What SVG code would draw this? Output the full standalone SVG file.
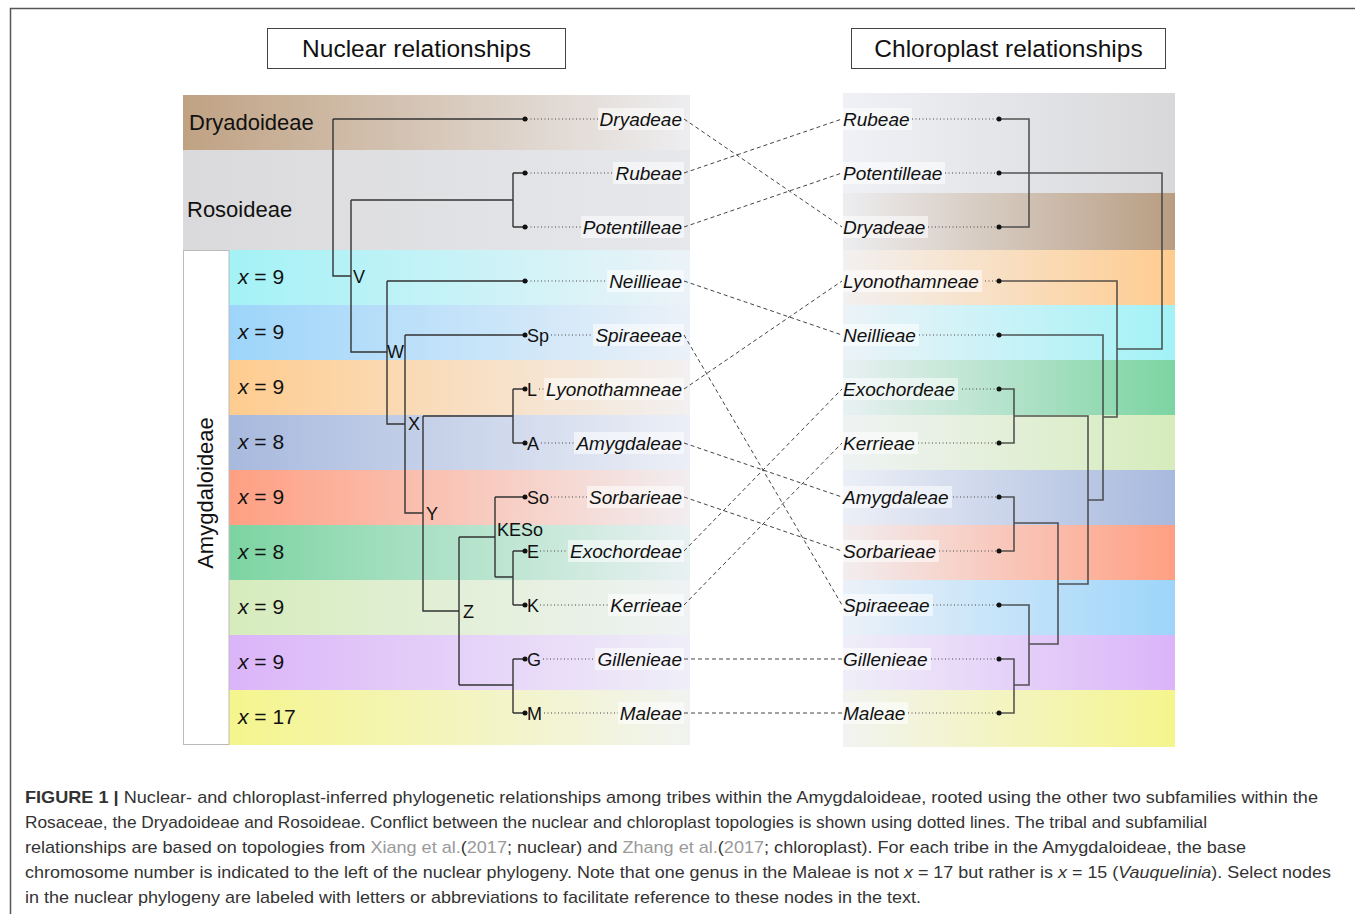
<svg xmlns="http://www.w3.org/2000/svg" width="1355" height="914" viewBox="0 0 1355 914">
<defs>
<linearGradient id="fadeL" x1="0" y1="0" x2="1" y2="0">
<stop offset="0" stop-color="#f1f3f8" stop-opacity="0"/>
<stop offset="1" stop-color="#f1f3f8" stop-opacity="0.93"/>
</linearGradient>
<linearGradient id="fadeR" x1="0" y1="0" x2="1" y2="0">
<stop offset="0" stop-color="#f1f3f8" stop-opacity="0.93"/>
<stop offset="1" stop-color="#f1f3f8" stop-opacity="0"/>
</linearGradient>
<style>
.hdr{font-family:"Liberation Sans",Arial,sans-serif;font-size:24.5px;fill:#111;text-anchor:middle}
.sub{font-family:"Liberation Sans",Arial,sans-serif;font-size:22px;fill:#111}
.xn{font-family:"Liberation Sans",Arial,sans-serif;font-size:21px;fill:#111}
.tl{font-family:"Liberation Sans",Arial,sans-serif;font-size:19px;font-style:italic;fill:#111}
.nl{font-family:"Liberation Sans",Arial,sans-serif;font-size:18px;fill:#111}
.tree{fill:none;stroke:#333;stroke-width:1.4}
.treeR{fill:none;stroke:#3a3a3a;stroke-width:1.6;stroke-opacity:0.85}
.dot{fill:#111}
.dotted{stroke:#444;stroke-width:1;stroke-dasharray:1 2.5;fill:none}
.dash{stroke:#444;stroke-width:1;stroke-dasharray:4 3;fill:none}
.lblbg{fill:#fff;fill-opacity:0.55}
.cap{font-family:"Liberation Sans",Arial,sans-serif;font-size:17px;fill:#333}
.lnk{fill:#9a9a9a}
</style>
</defs>
<rect width="1355" height="914" fill="#fff"/>
<!-- frame -->
<path d="M10.5,914 V8.5 H1355" fill="none" stroke="#555" stroke-width="1.5"/>

<!-- headers -->
<g id="hdr-nuclear">
<rect x="267.5" y="28.5" width="298" height="40" fill="#fff" stroke="#444" stroke-width="1"/>
<text class="hdr" x="416.5" y="57">Nuclear relationships</text>
</g>
<g id="hdr-chloroplast">
<rect x="851.5" y="28.5" width="314" height="40" fill="#fff" stroke="#444" stroke-width="1"/>
<text class="hdr" x="1008.5" y="57">Chloroplast relationships</text>
</g>

<!-- left bands -->
<g id="bands-left">
<rect x="183" y="95" width="507" height="55" fill="#c0a283"/>
<rect x="183" y="95" width="507" height="55" fill="url(#fadeL)"/>
<rect x="183" y="150" width="507" height="100" fill="#dadadc"/>
<rect x="183" y="150" width="507" height="100" fill="url(#fadeL)" opacity="0.6"/>
<rect x="229" y="250" width="461" height="55" fill="#a3f2f6"/>
<rect x="229" y="305" width="461" height="55" fill="#9dd5fa"/>
<rect x="229" y="360" width="461" height="55" fill="#ffcc8f"/>
<rect x="229" y="415" width="461" height="55" fill="#a7b9de"/>
<rect x="229" y="470" width="461" height="55" fill="#ff9f82"/>
<rect x="229" y="525" width="461" height="55" fill="#7cd4a2"/>
<rect x="229" y="580" width="461" height="55" fill="#d6ecbc"/>
<rect x="229" y="635" width="461" height="55" fill="#dbb4f9"/>
<rect x="229" y="690" width="461" height="55" fill="#f5f58d"/>
<rect x="229" y="250" width="461" height="495" fill="url(#fadeL)"/>
<rect x="183.5" y="250.5" width="45.5" height="494" fill="#fff" stroke="#bbb" stroke-width="1"/>
</g>

<!-- right bands -->
<g id="bands-right">
<rect x="843" y="93" width="332" height="100" fill="#d8d8da"/>
<rect x="843" y="193" width="332" height="57" fill="#b89d82"/>
<rect x="843" y="250" width="332" height="55" fill="#ffcc8f"/>
<rect x="843" y="305" width="332" height="55" fill="#a3f2f6"/>
<rect x="843" y="360" width="332" height="55" fill="#7cd4a2"/>
<rect x="843" y="415" width="332" height="55" fill="#d6ecbc"/>
<rect x="843" y="470" width="332" height="55" fill="#a7b9de"/>
<rect x="843" y="525" width="332" height="55" fill="#ff9f82"/>
<rect x="843" y="580" width="332" height="55" fill="#9dd5fa"/>
<rect x="843" y="635" width="332" height="55" fill="#dbb4f9"/>
<rect x="843" y="690" width="332" height="57" fill="#f5f58d"/>
<rect x="843" y="93" width="332" height="654" fill="url(#fadeR)"/>
</g>

<!-- subfamily and chromosome labels -->
<g id="subfamilies">
<text class="sub" x="189" y="130">Dryadoideae</text>
<text class="sub" x="187" y="217">Rosoideae</text>
<text class="sub" transform="translate(213,493) rotate(-90)" text-anchor="middle">Amygdaloideae</text>
</g>
<g id="chromosomes">
<text class="xn" x="238" y="284"><tspan font-style="italic">x</tspan> = 9</text>
<text class="xn" x="238" y="339"><tspan font-style="italic">x</tspan> = 9</text>
<text class="xn" x="238" y="394"><tspan font-style="italic">x</tspan> = 9</text>
<text class="xn" x="238" y="449"><tspan font-style="italic">x</tspan> = 8</text>
<text class="xn" x="238" y="504"><tspan font-style="italic">x</tspan> = 9</text>
<text class="xn" x="238" y="559"><tspan font-style="italic">x</tspan> = 8</text>
<text class="xn" x="238" y="614"><tspan font-style="italic">x</tspan> = 9</text>
<text class="xn" x="238" y="669"><tspan font-style="italic">x</tspan> = 9</text>
<text class="xn" x="238" y="724"><tspan font-style="italic">x</tspan> = 17</text>
</g>

<!-- nuclear tree -->
<g id="nuclear-tree">
<path class="tree" d="M333,119 H525 M333,119 V276 H351 M351,200 V352 H387 M351,200 H513 M513,173 V227 M513,173 H525 M513,227 H525 M387,281 H525 M387,281 V424 H405 M405,335 H525 M405,335 V513 H423 M423,416 V611 H459 M423,416 H513 M513,389 V443 M513,389 H525 M513,443 H525 M459,537 V685 M459,537 H495 M495,497 V577 M495,497 H525 M495,577 H513 M513,551 V605 M513,551 H525 M513,605 H525 M459,685 H513 M513,659 V713 M513,659 H525 M513,713 H525"/>
<g id="nuclear-node-labels">
<text class="nl" x="353" y="283">V</text>
<text class="nl" x="387" y="358">W</text>
<text class="nl" x="408" y="430">X</text>
<text class="nl" x="426" y="520">Y</text>
<text class="nl" x="463" y="618">Z</text>
<text class="nl" x="497" y="536">KESo</text>
</g>
</g>

<!-- chloroplast tree -->
<g id="chloroplast-tree">
<path class="treeR" d="M999,119 H1029 V227 H999 M999,173 H1162 V349 H1117 M999,281 H1117 V417 H1103 M999,335 H1103 V500 H1088 M999,389 H1014 V443 H999 M1014,416 H1088 V584 H1058 M999,497 H1014 V551 H999 M1014,523 H1058 V644 H1029 M999,605 H1029 V685 H1014 M999,659 H1014 V713 H999"/>
</g>

<!-- nuclear tips -->
<g id="n-dryadeae"><path class="dotted" d="M527,119 H598"/><rect class="lblbg" x="598" y="108" width="86" height="22"/><circle class="dot" cx="525" cy="119" r="2.5"/><text class="tl" x="682" y="125.5" text-anchor="end">Dryadeae</text></g>
<g id="n-rubeae"><path class="dotted" d="M527,173 H613"/><rect class="lblbg" x="613" y="162" width="71" height="22"/><circle class="dot" cx="525" cy="173" r="2.5"/><text class="tl" x="682" y="179.5" text-anchor="end">Rubeae</text></g>
<g id="n-potentilleae"><path class="dotted" d="M527,227 H581"/><rect class="lblbg" x="581" y="216" width="103" height="22"/><circle class="dot" cx="525" cy="227" r="2.5"/><text class="tl" x="682" y="233.5" text-anchor="end">Potentilleae</text></g>
<g id="n-neillieae"><path class="dotted" d="M527,281 H607"/><rect class="lblbg" x="607" y="270" width="77" height="22"/><circle class="dot" cx="525" cy="281" r="2.5"/><text class="tl" x="682" y="287.5" text-anchor="end">Neillieae</text></g>
<g id="n-spiraeeae"><path class="dotted" d="M551,335 H593"/><rect class="lblbg" x="593" y="324" width="91" height="22"/><circle class="dot" cx="525" cy="335" r="2.5"/><text class="nl" x="527" y="342">Sp</text><text class="tl" x="682" y="341.5" text-anchor="end">Spiraeeae</text></g>
<g id="n-lyonothamneae"><path class="dotted" d="M539,389 H544"/><rect class="lblbg" x="544" y="378" width="140" height="22"/><circle class="dot" cx="525" cy="389" r="2.5"/><text class="nl" x="527" y="396">L</text><text class="tl" x="682" y="395.5" text-anchor="end">Lyonothamneae</text></g>
<g id="n-amygdaleae"><path class="dotted" d="M541,443 H574"/><rect class="lblbg" x="574" y="432" width="110" height="22"/><circle class="dot" cx="525" cy="443" r="2.5"/><text class="nl" x="527" y="450">A</text><text class="tl" x="682" y="449.5" text-anchor="end">Amygdaleae</text></g>
<g id="n-sorbarieae"><path class="dotted" d="M551,497 H587"/><rect class="lblbg" x="587" y="486" width="97" height="22"/><circle class="dot" cx="525" cy="497" r="2.5"/><text class="nl" x="527" y="504">So</text><text class="tl" x="682" y="503.5" text-anchor="end">Sorbarieae</text></g>
<g id="n-exochordeae"><path class="dotted" d="M540,551 H568"/><rect class="lblbg" x="568" y="540" width="116" height="22"/><circle class="dot" cx="525" cy="551" r="2.5"/><text class="nl" x="527" y="558">E</text><text class="tl" x="682" y="557.5" text-anchor="end">Exochordeae</text></g>
<g id="n-kerrieae"><path class="dotted" d="M540,605 H608"/><rect class="lblbg" x="608" y="594" width="76" height="22"/><circle class="dot" cx="525" cy="605" r="2.5"/><text class="nl" x="527" y="612">K</text><text class="tl" x="682" y="611.5" text-anchor="end">Kerrieae</text></g>
<g id="n-gillenieae"><path class="dotted" d="M543,659 H595"/><rect class="lblbg" x="595" y="648" width="89" height="22"/><circle class="dot" cx="525" cy="659" r="2.5"/><text class="nl" x="527" y="666">G</text><text class="tl" x="682" y="665.5" text-anchor="end">Gillenieae</text></g>
<g id="n-maleae"><path class="dotted" d="M544,713 H618"/><rect class="lblbg" x="618" y="702" width="66" height="22"/><circle class="dot" cx="525" cy="713" r="2.5"/><text class="nl" x="527" y="720">M</text><text class="tl" x="682" y="719.5" text-anchor="end">Maleae</text></g>

<!-- chloroplast tips -->
<g id="c-rubeae"><rect class="lblbg" x="842" y="108" width="70" height="22"/><path class="dotted" d="M912,119 H997"/><circle class="dot" cx="999" cy="119" r="2.5"/><text class="tl" x="843" y="125.5">Rubeae</text></g>
<g id="c-potentilleae"><rect class="lblbg" x="842" y="162" width="103" height="22"/><path class="dotted" d="M945,173 H997"/><circle class="dot" cx="999" cy="173" r="2.5"/><text class="tl" x="843" y="179.5">Potentilleae</text></g>
<g id="c-dryadeae"><rect class="lblbg" x="842" y="216" width="86" height="22"/><path class="dotted" d="M928,227 H997"/><circle class="dot" cx="999" cy="227" r="2.5"/><text class="tl" x="843" y="233.5">Dryadeae</text></g>
<g id="c-lyonothamneae"><rect class="lblbg" x="842" y="270" width="140" height="22"/><path class="dotted" d="M985,281 H997"/><circle class="dot" cx="999" cy="281" r="2.5"/><text class="tl" x="843" y="287.5">Lyonothamneae</text></g>
<g id="c-neillieae"><rect class="lblbg" x="842" y="324" width="77" height="22"/><path class="dotted" d="M919,335 H997"/><circle class="dot" cx="999" cy="335" r="2.5"/><text class="tl" x="843" y="341.5">Neillieae</text></g>
<g id="c-exochordeae"><rect class="lblbg" x="842" y="378" width="116" height="22"/><path class="dotted" d="M962,389 H997"/><circle class="dot" cx="999" cy="389" r="2.5"/><text class="tl" x="843" y="395.5">Exochordeae</text></g>
<g id="c-kerrieae"><rect class="lblbg" x="842" y="432" width="76" height="22"/><path class="dotted" d="M918,443 H997"/><circle class="dot" cx="999" cy="443" r="2.5"/><text class="tl" x="843" y="449.5">Kerrieae</text></g>
<g id="c-amygdaleae"><rect class="lblbg" x="842" y="486" width="110" height="22"/><path class="dotted" d="M953,497 H997"/><circle class="dot" cx="999" cy="497" r="2.5"/><text class="tl" x="843" y="503.5">Amygdaleae</text></g>
<g id="c-sorbarieae"><rect class="lblbg" x="842" y="540" width="97" height="22"/><path class="dotted" d="M939,551 H997"/><circle class="dot" cx="999" cy="551" r="2.5"/><text class="tl" x="843" y="557.5">Sorbarieae</text></g>
<g id="c-spiraeeae"><rect class="lblbg" x="842" y="594" width="91" height="22"/><path class="dotted" d="M933,605 H997"/><circle class="dot" cx="999" cy="605" r="2.5"/><text class="tl" x="843" y="611.5">Spiraeeae</text></g>
<g id="c-gillenieae"><rect class="lblbg" x="842" y="648" width="89" height="22"/><path class="dotted" d="M931,659 H997"/><circle class="dot" cx="999" cy="659" r="2.5"/><text class="tl" x="843" y="665.5">Gillenieae</text></g>
<g id="c-maleae"><rect class="lblbg" x="842" y="702" width="66" height="22"/><path class="dotted" d="M908,713 H997"/><circle class="dot" cx="999" cy="713" r="2.5"/><text class="tl" x="843" y="719.5">Maleae</text></g>

<!-- connectors -->
<g id="connectors">
<path class="dash" d="M684,119 L842,227"/>
<path class="dash" d="M684,173 L842,119"/>
<path class="dash" d="M684,227 L842,173"/>
<path class="dash" d="M684,281 L842,335"/>
<path class="dash" d="M684,335 L842,605"/>
<path class="dash" d="M684,389 L842,281"/>
<path class="dash" d="M684,443 L842,497"/>
<path class="dash" d="M684,497 L842,551"/>
<path class="dash" d="M684,551 L842,389"/>
<path class="dash" d="M684,605 L842,443"/>
<path class="dash" d="M684,659 L842,659"/>
<path class="dash" d="M684,713 L842,713"/>
</g>

<!-- caption -->
<g id="caption">
<text class="cap" x="25" y="803" textLength="1293" lengthAdjust="spacingAndGlyphs"><tspan font-weight="bold">FIGURE 1 |</tspan> Nuclear- and chloroplast-inferred phylogenetic relationships among tribes within the Amygdaloideae, rooted using the other two subfamilies within the</text>
<text class="cap" x="25" y="828" textLength="1182" lengthAdjust="spacingAndGlyphs">Rosaceae, the Dryadoideae and Rosoideae. Conflict between the nuclear and chloroplast topologies is shown using dotted lines. The tribal and subfamilial</text>
<text class="cap" x="25" y="853" textLength="1221" lengthAdjust="spacingAndGlyphs">relationships are based on topologies from <tspan class="lnk">Xiang et al.</tspan>(<tspan class="lnk">2017</tspan>; nuclear) and <tspan class="lnk">Zhang et al.</tspan>(<tspan class="lnk">2017</tspan>; chloroplast). For each tribe in the Amygdaloideae, the base</text>
<text class="cap" x="25" y="878" textLength="1306" lengthAdjust="spacingAndGlyphs">chromosome number is indicated to the left of the nuclear phylogeny. Note that one genus in the Maleae is not <tspan font-style="italic">x</tspan> = 17 but rather is <tspan font-style="italic">x</tspan> = 15 (<tspan font-style="italic">Vauquelinia</tspan>). Select nodes</text>
<text class="cap" x="25" y="903" textLength="896" lengthAdjust="spacingAndGlyphs">in the nuclear phylogeny are labeled with letters or abbreviations to facilitate reference to these nodes in the text.</text>
</g>
</svg>
